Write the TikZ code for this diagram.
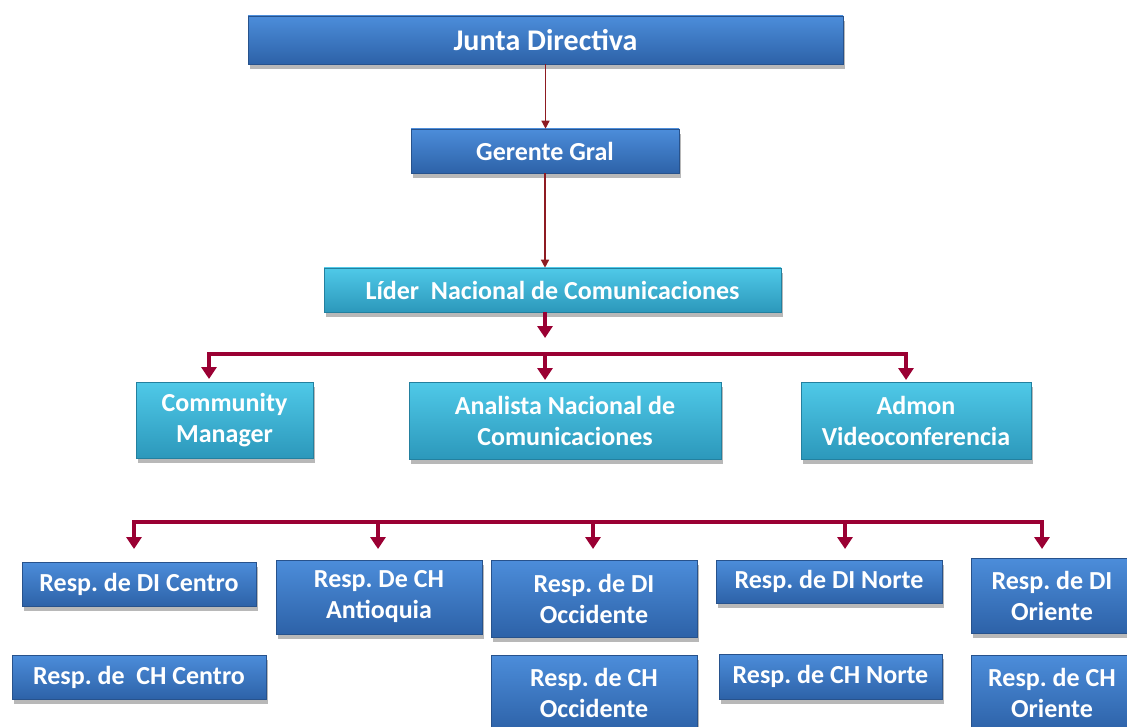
\documentclass[tikz,border=0pt]{standalone}
\usepackage{fontspec}
\setmainfont{Carlito}
\frenchspacing
\usetikzlibrary{arrows.meta,shadows}
\definecolor{bTop}{HTML}{4C8DDA}
\definecolor{bBot}{HTML}{2D62A8}
\definecolor{bLine}{HTML}{27528C}
\definecolor{cTop}{HTML}{4FC9E8}
\definecolor{cBot}{HTML}{2C98BB}
\definecolor{cLine}{HTML}{23809F}
\definecolor{arr}{HTML}{9A0033}
\definecolor{thinarr}{HTML}{8E1B22}
\definecolor{shad}{HTML}{B8B8B8}
\tikzset{
  box/.style={rectangle, inner sep=2pt, text=white, align=center,
    font=\bfseries\fontsize{26}{31}\selectfont,
    drop shadow={shadow xshift=1.5pt, shadow yshift=-5pt, fill=shad, opacity=1}},
  bluebox/.style={box, top color=bTop, bottom color=bBot, draw=bLine, line width=0.6pt},
  cyanbox/.style={box, top color=cTop, bottom color=cBot, draw=cLine, line width=0.6pt},
  thinarrow/.style={draw=thinarr, line width=1.4pt, -{Triangle[width=8pt,length=8pt]}},
  bigarrow/.style={draw=arr, line width=4.5pt, -{Triangle[width=15pt,length=12pt]}},
  barline/.style={draw=arr, line width=4.5pt, line cap=rect},
}
\begin{document}
\begin{tikzpicture}[x=1pt,y=-1pt]
\useasboundingbox (0,0) rectangle (1127,727);
\clip (0,0) rectangle (1127,727);
% top levels
\node[bluebox, minimum width=595, minimum height=48, font=\bfseries\fontsize{30}{34}\selectfont] (junta) at (545.5,40) {Junta Directiva};
\node[bluebox, minimum width=268, minimum height=44] (gerente) at (545,151) {Gerente Gral};
\node[cyanbox, minimum width=457, minimum height=44] (lider) at (552.5,290) {Líder\ \ Nacional de Comunicaciones};
% second level
\node[cyanbox, minimum width=177, minimum height=76] (community) at (224.5,420) {Community\\Manager};
\node[cyanbox, minimum width=312, minimum height=77] (analista) at (565,420.5) {Analista Nacional de\\Comunicaciones};
\node[cyanbox, minimum width=230, minimum height=77] (admon) at (916,420.5) {Admon\\Videoconferencia};
% third level
\node[bluebox, minimum width=234, minimum height=44] (diC) at (139,584) {Resp. de DI Centro};
\node[bluebox, minimum width=206, minimum height=74] (chA) at (379,597) {Resp. De CH\\Antioquia};
\node[bluebox, minimum width=206, minimum height=77] (diOc) at (594,598.5) {Resp. de DI\\Occidente};
\node[bluebox, minimum width=226, minimum height=43] (diN) at (829,581.5) {Resp. de DI Norte};
\node[bluebox, minimum width=162, minimum height=75] (diOr) at (1052,595.5) {Resp. de DI\\Oriente};
\node[bluebox, minimum width=254, minimum height=44] (chC) at (139,677) {Resp. de\ \ CH Centro};
\node[bluebox, minimum width=206, minimum height=76] (chOc) at (594,693) {Resp. de CH\\Occidente};
\node[bluebox, minimum width=223, minimum height=45] (chN) at (830.5,676.5) {Resp. de CH Norte};
\node[bluebox, minimum width=162, minimum height=76] (chOr) at (1052,693) {Resp. de CH\\Oriente};
% connectors top
\draw[thinarrow] (junta.south) -- (junta.south |- gerente.north);
\draw[thinarrow] (gerente.south) -- (gerente.south |- lider.north);
\coordinate (b1L) at (209,354);
\coordinate (b1M) at (545,354);
\coordinate (b1R) at (906,354);
\draw[bigarrow] (lider.south -| b1M) -- ([yshift=16pt]b1M);
\draw[barline] (b1L) -- (b1R);
\draw[bigarrow] (b1L) -- ([yshift=-25pt]b1L);
\draw[bigarrow] (b1M) -- ([yshift=-26pt]b1M);
\draw[bigarrow] (b1R) -- ([yshift=-26pt]b1R);
% second bar
\coordinate (b2a) at (134,522);
\coordinate (b2b) at (378,522);
\coordinate (b2c) at (593,522);
\coordinate (b2d) at (845,522);
\coordinate (b2e) at (1042,522);
\draw[barline] (b2a) -- (b2e);
\foreach \c in {b2a,b2b,b2c,b2d,b2e}{
  \draw[bigarrow] (\c) -- ([yshift=-27pt]\c);
}
\end{tikzpicture}
\end{document}
